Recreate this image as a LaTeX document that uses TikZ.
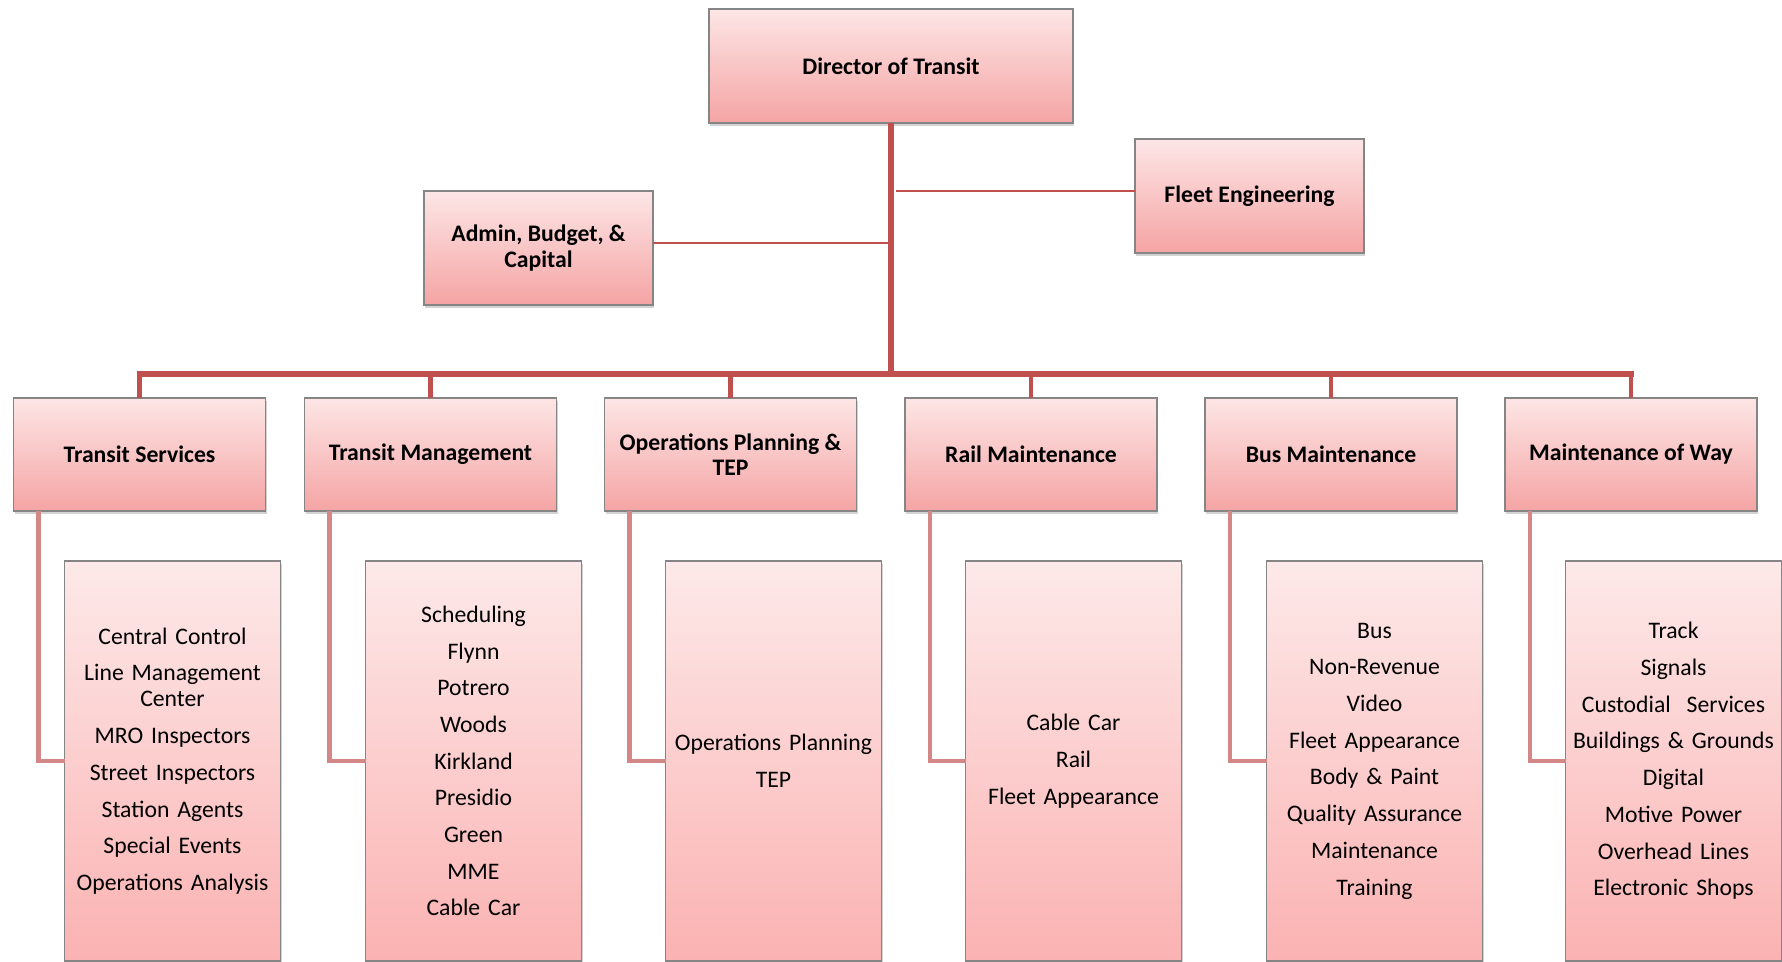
\documentclass[tikz,border=0pt]{standalone}
\usepackage{fontspec}
\setmainfont{Carlito}
\usetikzlibrary{shadows,calc}
\definecolor{linkred}{HTML}{C0504D}
\definecolor{elbowred}{HTML}{D48787}
\definecolor{boxtop}{HTML}{FDE6E6}
\definecolor{boxbot}{HTML}{F5A4A4}
\definecolor{subtop}{HTML}{FDE9E9}
\definecolor{subbot}{HTML}{FBB2B2}
\definecolor{edgegray}{HTML}{858585}
\tikzset{
  unitbox/.style={rectangle, draw=edgegray, line width=0.6pt, outer sep=0pt, inner sep=2pt,
    align=center, text=black,
    drop shadow={opacity=0.35, shadow xshift=0.6pt, shadow yshift=-1.6pt}},
  headbox/.style={unitbox, top color=boxtop, bottom color=boxbot,
    font=\fontsize{11.85}{12.6}\selectfont\bfseries},
  subbox/.style={unitbox, top color=subtop, bottom color=subbot,
    minimum width=106.5pt, minimum height=200pt, text width=104pt,
    font=\fontsize{11.85}{13}\selectfont},
  trunk/.style={draw=linkred, line width=3pt},
  drop/.style={draw=linkred, line width=2.4pt},
  thinlink/.style={draw=linkred, line width=1pt},
  elbow/.style={draw=elbowred, line width=2.4pt}
}
\newcommand{\gap}{\\[5.35pt]}
\begin{document}
\begin{tikzpicture}[x=0.5pt, y=-0.5pt]
\useasboundingbox (0,0) rectangle (1782,962);

% top level
\node[headbox, minimum width=182pt, minimum height=57pt] (dir) at (891,66) {Director of Transit};
\node[headbox, minimum width=114.5pt, minimum height=57pt] (admin) at (538.5,248) {Admin, Budget, \&\\Capital};
\node[headbox, minimum width=114.5pt, minimum height=57pt] (fleet) at (1249.5,196) {Fleet Engineering};

% divisions
\foreach \n/\x/\t in {ts/139.5/{Transit Services}, tm/430.5/{Transit Management},
    op/730.5/{Operations Planning \&\\TEP}, rm/1031/{Rail Maintenance},
    bm/1331/{Bus Maintenance}, mw/1631/{Maintenance of Way}}
  \node[headbox, minimum width=126pt, minimum height=56.5pt] (\n) at (\x,454.5) {\t};

% sections under each division
\node[subbox] (tss) at (172.5,761) {Central Control\gap Line Management\\Center\gap MRO Inspectors\gap Street Inspectors\gap Station Agents\gap Special Events\gap Operations Analysis};
\node[subbox] (tms) at (473.5,761) {Scheduling\gap Flynn\gap Potrero\gap Woods\gap Kirkland\gap Presidio\gap Green\gap MME\gap Cable Car};
\node[subbox] (ops) at (773.5,761) {Operations Planning\gap TEP};
\node[subbox] (rms) at (1073.5,761) {Cable Car\gap Rail\gap Fleet Appearance};
\node[subbox] (bms) at (1374.5,761) {Bus\gap Non-Revenue\gap Video\gap Fleet Appearance\gap Body \& Paint\gap Quality Assurance\gap Maintenance\gap Training};
\node[subbox] (mws) at (1673.5,761) {Track\gap Signals\gap Custodial\ \ Services\gap Buildings \& Grounds\gap Digital\gap Motive Power\gap Overhead Lines\gap Electronic Shops};

% main trunk and bus
\coordinate (busL) at (ts.north |- 0,374);
\coordinate (busR) at (mw.north |- 0,374);
\coordinate (busM) at (dir.south |- 0,374);
\draw[trunk] (dir.south) -- (busM);
\draw[trunk, line cap=rect] (busL) -- (busR);
\foreach \n in {ts,tm,op,rm,bm,mw}
  \draw[drop] (\n.north |- 0,374) -- (\n.north);

% staff links
\coordinate (adminout) at ($(admin.east)+(0,-5)$);
\coordinate (adminin) at (dir.south |- adminout);
\coordinate (fleetout) at ($(fleet.west)+(0,-5)$);
\coordinate (fleetin) at ($(dir.south |- fleetout)+(5,0)$);
\draw[thinlink] (adminout) -- (adminin);
\draw[thinlink] (fleetout) -- (fleetin);

% elbow connectors from divisions to their sections
\foreach \a/\b in {ts/tss, tm/tms, op/ops, rm/rms, bm/bms, mw/mws}
  \draw[elbow] ($(\a.south west)+(25,0)$) |- (\b.west);
\end{tikzpicture}
\end{document}
